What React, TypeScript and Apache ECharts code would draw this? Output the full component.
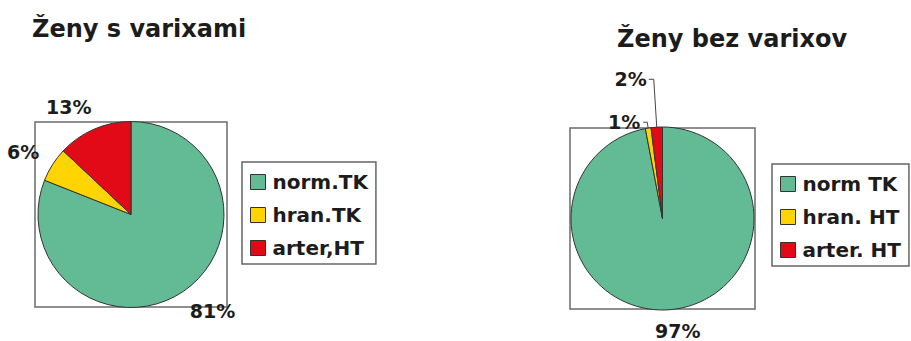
import React, { useEffect, useRef } from "react";
import * as echarts from "echarts";

const leftTitle = "Ženy s varixami";
const rightTitle = "Ženy bez varixov";
const leftCategories = ["norm.TK", "hran.TK", "arter,HT"];
const leftValues = [81, 6, 13];
const rightCategories = ["norm TK", "hran. HT", "arter. HT"];
const rightValues = [97, 1, 2];
const sliceColors = ["#63bb96", "#ffd400", "#e20a17"];

const FONT = "DejaVu Sans";
const TEXT = "#1c1c1c";

export default function App() {
  const ref = useRef<HTMLDivElement>(null);
  useEffect(() => {
    if (!ref.current) return;
    const chart = echarts.init(ref.current, undefined, { renderer: "svg" });

    const labelStyle = {
      show: true,
      position: "outside",
      formatter: "{c}%",
      fontFamily: FONT,
      fontWeight: "bold",
      fontSize: 19,
      color: TEXT,
    };

    const leftData = leftCategories.map((name, i) => ({
      name,
      value: leftValues[i],
      itemStyle: { color: sliceColors[i] },
    }));

    // label line settings for the right pie (per slice)
    const rightLabelCfg = [
      { line: { show: false, length: 21, length2: 0 }, dist: -18 },
      { line: { show: true, length: 6, length2: 4 }, dist: 3 },
      { line: { show: true, length: 48, length2: 5 }, dist: 2 },
    ];
    const rightData = rightCategories.map((name, i) => ({
      name,
      value: rightValues[i],
      itemStyle: { color: sliceColors[i] },
      labelLine: rightLabelCfg[i].line,
      label: { distanceToLabelLine: rightLabelCfg[i].dist },
    }));

    const legendCommon = {
      orient: "vertical",
      icon: "rect",
      itemWidth: 15,
      itemHeight: 15,
      itemGap: 13,
      padding: [10, 8, 6, 8],
      borderColor: "#666",
      borderWidth: 1.5,
      borderRadius: 0,
      selectedMode: false,
      itemStyle: { borderColor: "#333", borderWidth: 1 },
      textStyle: {
        fontFamily: FONT,
        fontWeight: "bold",
        fontSize: 20,
        color: TEXT,
        padding: [0, 0, 0, 2],
      },
    };

    chart.setOption({
      animation: false,
      backgroundColor: "#ffffff",
      title: [
        {
          text: leftTitle,
          left: 32,
          top: 17,
          padding: 0,
          textStyle: { fontFamily: FONT, fontWeight: "bold", fontSize: 24, color: TEXT },
        },
        {
          text: rightTitle,
          left: 617,
          top: 27,
          padding: 0,
          textStyle: { fontFamily: FONT, fontWeight: "bold", fontSize: 24, color: TEXT },
        },
      ],
      legend: [
        { ...legendCommon, left: 242, top: 162, data: leftCategories },
        { ...legendCommon, left: 772, top: 164, data: rightCategories },
      ],
      graphic: [
        {
          type: "rect",
          z: 0,
          shape: { x: 35, y: 122, width: 192, height: 185 },
          style: { fill: "none", stroke: "#6b6b6b", lineWidth: 1.5 },
        },
        {
          type: "rect",
          z: 0,
          shape: { x: 570, y: 128, width: 185, height: 181 },
          style: { fill: "none", stroke: "#6b6b6b", lineWidth: 1.5 },
        },
      ],
      series: [
        {
          type: "pie",
          center: [131, 214.5],
          radius: 93,
          startAngle: 90,
          clockwise: true,
          z: 2,
          avoidLabelOverlap: false,
          itemStyle: { borderColor: "#333", borderWidth: 1 },
          label: { ...labelStyle, distanceToLabelLine: -7 },
          labelLine: { show: false, length: 24, length2: 0 },
          emphasis: { disabled: true },
          data: leftData,
        },
        {
          type: "pie",
          center: [662.5, 218.5],
          radius: 91.5,
          startAngle: 90,
          clockwise: true,
          z: 2,
          avoidLabelOverlap: false,
          itemStyle: { borderColor: "#333", borderWidth: 1 },
          label: labelStyle,
          labelLine: {
            lineStyle: { color: "#444", width: 1 },
            minTurnAngle: 0,
          },
          emphasis: { disabled: true },
          data: rightData,
        },
      ],
    });
    return () => chart.dispose();
  }, []);

  return (
    <div
      ref={ref}
      style={{ position: "absolute", left: 0, top: 0, width: 911, height: 341 }}
    />
  );
}
